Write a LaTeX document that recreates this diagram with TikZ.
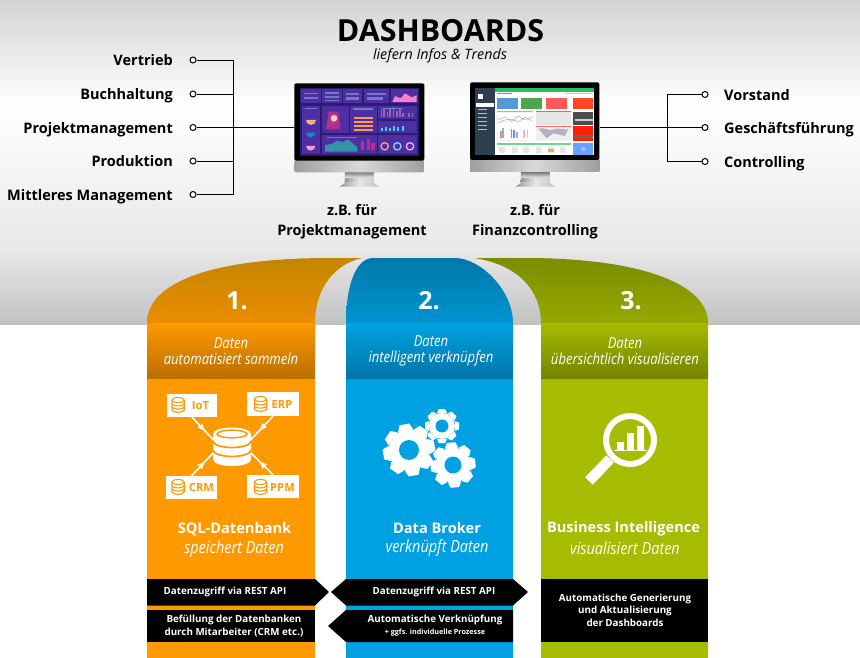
\documentclass[tikz,border=0pt]{standalone}
\usepackage{fontspec}
\setmainfont{Open Sans}
\newfontfamily\condit[FakeStretch=0.86,ItalicFont={Open Sans Italic}]{Open Sans}
\usetikzlibrary{decorations.markings}
\definecolor{org}{HTML}{FF9900}
\definecolor{blu}{HTML}{00A1E2}
\definecolor{grn}{HTML}{A5BC00}
\definecolor{archo}{HTML}{C48600}
\definecolor{archb}{HTML}{0078AA}
\definecolor{archg}{HTML}{7C8D00}
\definecolor{scrbg}{HTML}{2E1A6E}
\definecolor{scrpan}{HTML}{4C2FA2}
\definecolor{side}{HTML}{2C3E50}
\tikzset{
  lab/.style={font=\bfseries\fontsize{14.5}{16}\selectfont,inner sep=0pt,text=black},
  bull/.style={circle,draw=black,fill=white,line width=1pt,minimum size=6pt,inner sep=0pt},
  conn/.style={draw=black,line width=.8pt},
  capt/.style={font=\bfseries\fontsize{14.5}{20}\selectfont,align=center,inner sep=0pt},
  numb/.style={font=\bfseries\fontsize{25}{28}\selectfont,text=white,inner sep=0pt},
  band/.style={font=\condit\itshape\fontsize{15.2}{15.5}\selectfont,text=white,align=center,inner sep=0pt},
  ttl/.style={font=\bfseries\fontsize{14.6}{18}\selectfont,text=white,inner sep=0pt},
  sub/.style={font=\condit\itshape\fontsize{16.8}{18}\selectfont,text=white,inner sep=0pt},
  bar/.style={font=\bfseries\fontsize{9.8}{12.5}\selectfont,text=white,align=center,inner sep=0pt},
  dbbox/.style={fill=white,inner sep=0pt},
  dbtext/.style={inner sep=0pt,font=\bfseries\fontsize{11.2}{13}\selectfont,text=org},
  feed/.style={draw=white,line width=1.6pt,postaction={decorate},decoration={markings,mark=at position .62 with {\arrow[white,scale=1.1]{latex}}}},
}
% small database icon: centre x, y
\newcommand{\smalldb}[2]{%
  \begin{scope}[shift={(#1,#2)}]
    \draw[org,line width=1.1pt,fill=white] (-6.2,-5) -- (-6.2,4.8) arc[start angle=180,end angle=0,x radius=6.2,y radius=2.5] -- (6.2,-5);
    \draw[org,line width=1.1pt] (0,-5) ellipse[x radius=6.2,y radius=2.5];
    \draw[org,line width=1.1pt] (-6.2,-1.6) arc[start angle=180,end angle=0,x radius=6.2,y radius=2.5];
    \draw[org,line width=1.1pt] (-6.2,1.6) arc[start angle=180,end angle=0,x radius=6.2,y radius=2.5];
  \end{scope}}
% gear: x, y, outer radius, root radius, rotation
\newcommand{\gearicon}[5]{%
  \begin{scope}[shift={(#1,#2)}]
    \fill[white] (0,0) circle[radius=#4];
    \foreach \a in {0,45,...,315}{
      \fill[white,rotate=\a+#5] (-.3*#3,-.75*#3) -- (-.19*#3,-#3) -- (.19*#3,-#3) -- (.3*#3,-.75*#3) -- cycle;}
  \end{scope}}
\begin{document}
\begin{tikzpicture}[x=1pt,y=-1pt]
\useasboundingbox (0,0) rectangle (860,658);
\fill[white] (0,0) rectangle (860,658);
% background
\definecolor{bgm}{HTML}{E8E8E8}
\definecolor{bgl}{HTML}{C2C2C2}
\shade[top color=black!17,bottom color=white] (0,0) rectangle (860,105);
\shade[top color=white,bottom color=bgm] (0,105) rectangle (860,250);
\shade[top color=bgm,bottom color=bgl] (0,250) rectangle (860,324);
% arches
\shade[top color=archo,bottom color=org!92!black]
  (147,323) .. controls (147,283) and (210,258) .. (330,258) -- (362,258)
  .. controls (335,264) and (315,288) .. (315,323) -- cycle;
\shade[top color=archb,bottom color=blu!92!black]
  (346,323) .. controls (346,295) and (352,260) .. (372,258) -- (455,258)
  .. controls (480,258) and (513,290) .. (513,323) -- cycle;
\shade[top color=archg,bottom color=grn!90!black]
  (708,323) .. controls (708,283) and (638,258) .. (525,258) -- (474,258)
  .. controls (515,264) and (541,288) .. (541,323) -- cycle;
% columns
\fill[org] (147,323) rectangle (315,658);
\fill[blu] (346,323) rectangle (513,658);
\fill[grn] (541,323) rectangle (708,658);
\shade[top color=org,bottom color=org!73!black] (147,323) rectangle (315,378);
\shade[top color=blu,bottom color=blu!73!black] (346,323) rectangle (513,378);
\shade[top color=grn,bottom color=grn!70!black] (541,323) rectangle (708,378);
% title
\node[inner sep=0pt,font=\bfseries\fontsize{30.4}{34}\selectfont] (title) at (440.5,30.5) {DASHBOARDS};
\node[inner sep=0pt,font=\itshape\fontsize{14.3}{17}\selectfont] (subtitle) at (440,55.5) {liefern Infos \& Trends};
% monitors
\node[inner sep=0pt,minimum width=130pt,minimum height=89pt] (mona) at (359,127.5) {};
\node[inner sep=0pt,minimum width=130pt,minimum height=89pt] (monb) at (535,127.5) {};
\begin{scope}[shift={(270,70)},x=.33333pt,y=-.33333pt]
  \shade[left color=black!42,right color=black!20,middle color=black!10] (225,305) -- (310,305) -- (312,338) -- (224,338) -- cycle;
  \shade[top color=black!55,bottom color=black!12] (225,305) rectangle (310,322);
  \shade[left color=black!40,right color=black!25,middle color=black!10] (208,350) -- (226,338) -- (310,338) -- (327,350) -- cycle;
  \shade[left color=black!38,right color=black!38,middle color=black!15] (73,270) -- (463,270) -- (463,300) [rounded corners=2pt] -- (463,307) -- (73,307) -- (73,300) -- cycle;
  \fill[black,rounded corners=1.5pt] (73,40) rectangle (463,272);
  \fill[scrbg] (90,55) rectangle (447,258);
  \foreach \xa/\ya/\xb/\yb in {93/58/153/100,157/58/215/100,220/58/277/100,282/58/358/100,363/58/443/100,
     95/107/150/252,157/108/237/190,241/108/320/190,325/108/442/148,325/152/442/190,157/195/320/252,325/195/442/252}
    \fill[scrpan] (\xa,\ya) rectangle (\xb,\yb);
  \foreach \xa/\ya/\xb/\yb in {103/68/143/73,103/82/143/87,165/66/208/71,165/78/208/83,165/90/208/94,228/70/268/76,228/82/268/90,292/68/348/74,292/80/340/90,105/113/140/117,250/114/310/119,335/114/400/118,170/200/260/204}
    \fill[cyan!30!white,opacity=.4] (\xa,\ya) rectangle (\xb,\yb);
  \fill[magenta!50!white] (367,96) -- (375,78) -- (392,85) -- (405,70) -- (425,82) -- (440,76) -- (440,96) -- cycle;
  \fill[pink!70!orange] (108,150) arc[start angle=180,end angle=0,radius=15] -- cycle;
  \fill[cyan!70!blue] (108,188) arc[start angle=180,end angle=0,radius=14] -- cycle;
  \fill[magenta!40!white] (108,228) arc[start angle=180,end angle=0,radius=14] -- cycle;
  \fill[magenta!65!orange,opacity=.6] (176,125) -- (205,125) -- (212,178) -- (168,178) -- cycle;
  \fill[pink!80!white] (192,145) circle[radius=10];
  \foreach \yy in {142,154,166,178}
    \fill[orange!60!pink] (252,\yy) rectangle (310,\yy+4);
  \foreach \xx/\hh in {332/20,340/26,350/14,358/24,368/28,378/18,388/24,396/12,415/10,425/10}
    \fill[cyan!40!magenta] (\xx,140) rectangle (\xx+5,140-\hh);
  \foreach \xx/\hh in {332/10,345/14,358/10,370/16,382/12,395/16}
    \fill[cyan!70!white] (\xx,184) rectangle (\xx+6,184-\hh);
  \fill[cyan!70!black!85!green] (165,245) -- (165,225) -- (185,222) -- (200,212) -- (220,216) -- (235,208) -- (262,232) -- (262,245) -- cycle;
  \foreach \xx/\hh in {272/28,290/32,304/22}
    \fill[magenta!60!violet] (\xx,240) rectangle (\xx+10,240-\hh);
  \draw[pink!60!orange,line width=1.3pt] (344,229) circle[radius=11];
  \draw[cyan!50!white,line width=1.3pt] (382,229) circle[radius=11];
  \draw[magenta!30!white,line width=1.3pt] (420,229) circle[radius=11];
\end{scope}
\begin{scope}[shift={(446,70)},x=.33333pt,y=-.33333pt]
  \shade[left color=black!42,right color=black!20,middle color=black!10] (225,305) -- (310,305) -- (312,338) -- (224,338) -- cycle;
  \shade[top color=black!55,bottom color=black!12] (225,305) rectangle (310,322);
  \shade[left color=black!40,right color=black!25,middle color=black!10] (208,350) -- (226,338) -- (310,338) -- (327,350) -- cycle;
\end{scope}
\begin{scope}[shift={(270,70)},x=.33333pt,y=-.33333pt]
  \shade[left color=black!38,right color=black!38,middle color=black!15] (600,268) -- (988,268) -- (988,305) -- (600,305) -- cycle;
  \fill[black,rounded corners=1.5pt] (600,37) rectangle (988,270);
  \fill[white] (615,55) rectangle (973,254);
  \fill[side] (615,55) rectangle (675,254);
  \fill[white] (618,100) rectangle (672,110);
  \fill[white] (625,72) rectangle (640,88);
  \foreach \yy in {118,130,142,154,166,178}
    \fill[black!25] (624,\yy) rectangle (650,\yy+3);
  \fill[teal!60!green!85!white] (675,55) rectangle (973,65);
  \fill[black!45] (680,68) rectangle (725,73);
  \fill[black!20] (885,68) rectangle (970,72);
  \fill[cyan!60!blue!70!white] (681,85) rectangle (743,118);
  \fill[green!50!black!70!white] (753,85) rectangle (817,118);
  \fill[red!65!white] (828,85) rectangle (892,118);
  \fill[red!70!orange!85!white] (909,85) rectangle (970,118);
  \fill[black!6] (681,123) rectangle (790,212);
  \fill[white] (683,128) rectangle (788,210);
  \fill[green!50!teal!60!white] (681,123) rectangle (790,126);
  \draw[teal!50!white,line width=.5pt] (685,150) -- (705,140) -- (725,155) -- (745,138) -- (765,150) -- (786,140);
  \draw[red!50!white,line width=.5pt] (685,158) -- (705,150) -- (725,148) -- (745,155) -- (765,142) -- (786,152);
  \foreach \xx/\hh/\cc in {690/22/red!50!white,697/30/teal!50!white,722/28/red!60!white,730/24/blue!50!white,738/20/teal!50!white,760/26/red!30!white,770/28/teal!30!white}
    \fill[\cc] (\xx,205) rectangle (\xx+5,205-\hh);
  \fill[black!10] (797,126) rectangle (903,165);
  \fill[red!65!white] (797,123) rectangle (903,126);
  \fill[black!6] (797,170) rectangle (903,212);
  \fill[red!60!white] (797,168) rectangle (903,170);
  \fill[blue!25!black!30!white] (805,176) .. controls (825,170) and (835,185) .. (850,178) .. controls (870,172) and (885,180) .. (895,178) -- (885,198) -- (850,190) -- (830,205) -- cycle;
  \fill[black!70] (909,125) rectangle (970,165);
  \fill[red!75!orange] (909,168) rectangle (970,212);
  \fill[black!60] (912,195) rectangle (968,205);
  \fill[black!20] (914,148) rectangle (968,152);
  \fill[teal!50!green!60!white] (681,219) rectangle (903,226);
  \foreach \xx in {688,725,760,797,835,870}
    \fill[black!10] (\xx,232) rectangle (\xx+18,250);
  \fill[green!30!orange!70!white] (835,236) rectangle (853,246);
  \fill[blue!60!cyan!60!white] (909,219) rectangle (970,254);
  \fill[blue!30!white] (940,237) circle[radius=7];
\end{scope}
% left labels
\foreach \n/\t/\y/\b in {a/Vertrieb/60/65.8,b/Buchhaltung/94/99.8,c/Projektmanagement/127.5/133.3,d/Produktion/161/166.6,e/Mittleres Management/194.5/200.3}{
  \node[lab,anchor=base east] (l\n) at (173,\b) {\t};
  \node[bull] (bl\n) at (193,\y) {};
}
\coordinate (ltop) at (233,60);
\coordinate (lbot) at (233,194.5);
\draw[conn] (bla) -- (ltop) -- (lbot) -- (ble);
\draw[conn] (blb) -- (233,94);
\draw[conn] (bld) -- (233,161);
\draw[conn] (blc) -- (mona.west);
% right labels
\foreach \n/\t/\y/\b in {a/Vorstand/94.5/100.5,b/Geschäftsführung/127.5/133.5,c/Controlling/161.5/167.5}{
  \node[lab,anchor=base west] (r\n) at (724,\b) {\t};
  \node[bull] (br\n) at (705,\y) {};
}
\coordinate (rtop) at (667,94.5);
\coordinate (rbot) at (667,161.5);
\draw[conn] (bra) -- (rtop) -- (rbot) -- (brc);
\draw[conn] (brb) -- (monb.east);
% captions
\node[capt] (capa) at (352,222) {z.B. für\\Projektmanagement};
\node[capt] (capb) at (535,222) {z.B. für\\Finanzcontrolling};
% numbers and bands
\node[numb] (n1) at (237,301) {1.};
\node[numb] (n2) at (429,301) {2.};
\node[numb] (n3) at (631,301) {3.};
\node[band] (b1) at (231,351) {Daten\\automatisiert sammeln};
\node[band] (b2) at (431,351) {Daten\\intelligent verknüpfen};
\node[band] (b3) at (625,351) {Daten\\übersichtlich visualisieren};
% database part
\node[dbbox,minimum width=50pt,minimum height=23pt] (iot) at (192,405.5) {};
\node[dbbox,minimum width=52pt,minimum height=23.5pt] (erp) at (273,404.2) {};
\node[dbbox,minimum width=51pt,minimum height=23pt] (crm) at (191.5,487.5) {};
\node[dbbox,minimum width=52pt,minimum height=23pt] (ppm) at (273,486.5) {};
\node[dbtext] (iott) at (200.5,405.5) {IoT};
\node[dbtext] (erpt) at (282,404.5) {ERP};
\node[dbtext] (crmt) at (201.5,487.5) {CRM};
\node[dbtext] (ppmt) at (282.5,487) {PPM};
\smalldb{178}{405}
\smalldb{260.5}{404}
\smalldb{178}{487}
\smalldb{260.5}{487}
\node[inner sep=0pt,minimum width=38pt,minimum height=39pt] (db) at (232,446.5) {};
\coordinate (dba) at (214,440.5);
\coordinate (dbb) at (250,440.5);
\coordinate (dbc) at (214,452);
\coordinate (dbd) at (250,452);
\draw[feed] (iot.south) -- (dba);
\draw[feed] (erp.south) -- (dbb);
\draw[feed] (crm.north) -- (dbc);
\draw[feed] (ppm.north) -- (dbd);
\begin{scope}[shift={(db.center)}]
  \fill[white] (-19,-12.5) -- (-19,13) arc[start angle=180,end angle=0,x radius=19,y radius=6.5] -- (19,-12.5) arc[start angle=0,end angle=-180,x radius=19,y radius=6.5] -- cycle;
  \draw[org,line width=1.5pt] (0,-12.5) ellipse[x radius=15,y radius=3.8];
  \draw[org,line width=1.7pt] (-19,-5.5) arc[start angle=180,end angle=0,x radius=19,y radius=6.5];
  \draw[org,line width=1.7pt] (-19,3.5) arc[start angle=180,end angle=0,x radius=19,y radius=6.5];
\end{scope}
% gears
\gearicon{409}{450}{26}{20.5}{10}
\fill[blu] (409,450) circle[radius=10];
\gearicon{442}{426}{17}{13}{0}
\fill[blu] (442,426) circle[radius=6.5];
\gearicon{453}{465}{22.5}{17.5}{5}
\fill[blu] (453,465) circle[radius=8.5];
% magnifier
\draw[white,line width=6pt] (630,440) circle[radius=24];
\draw[white,line width=10.5pt] (610,459) -- (589,481);
\fill[white] (617,442) rectangle (623.5,450);
\fill[white] (627,433) rectangle (634,450);
\fill[white] (637,426) rectangle (644,450);
\fill[white] (614,450) rectangle (647,451);
% titles
\node[ttl] (t1) at (234.5,529.5) {SQL-Datenbank};
\node[sub] (s1) at (234,549.5) {speichert Daten};
\node[ttl] (t2) at (437,528.5) {Data Broker};
\node[sub] (s2) at (437,548.5) {verknüpft Daten};
\node[ttl] (t3) at (623.5,528.5) {Business Intelligence};
\node[sub] (s3) at (625,548.5) {visualisiert Daten};
% black bars
\fill[black] (147,579) -- (315,579) -- (329,592) -- (315,605.5) -- (147,605.5) -- cycle;
\fill[black] (147,610) rectangle (315,642);
\fill[black] (346,579) -- (513,579) -- (528,592) -- (513,605.5) -- (346,605.5) -- (331,592) -- cycle;
\fill[black] (346,610) -- (513,610) -- (513,642) -- (346,642) -- (328,626) -- cycle;
\fill[black] (541,579) rectangle (708,642);
\node[bar] (x1) at (225,592) {Datenzugriff via REST API};
\node[bar] (x2) at (234,626) {Befüllung der Datenbanken\\durch Mitarbeiter (CRM etc.)};
\node[bar] (x3) at (434,592) {Datenzugriff via REST API};
\node[bar] (x4) at (435,620) {Automatische Verknüpfung};
\node[bar,font=\bfseries\fontsize{7.2}{8}\selectfont] (x5) at (435,633) {+ ggfs. individuelle Prozesse};
\node[bar] (x6) at (625,610) {Automatische Generierung\\und Aktualisierung\\der Dashboards};
\end{tikzpicture}
\end{document}
